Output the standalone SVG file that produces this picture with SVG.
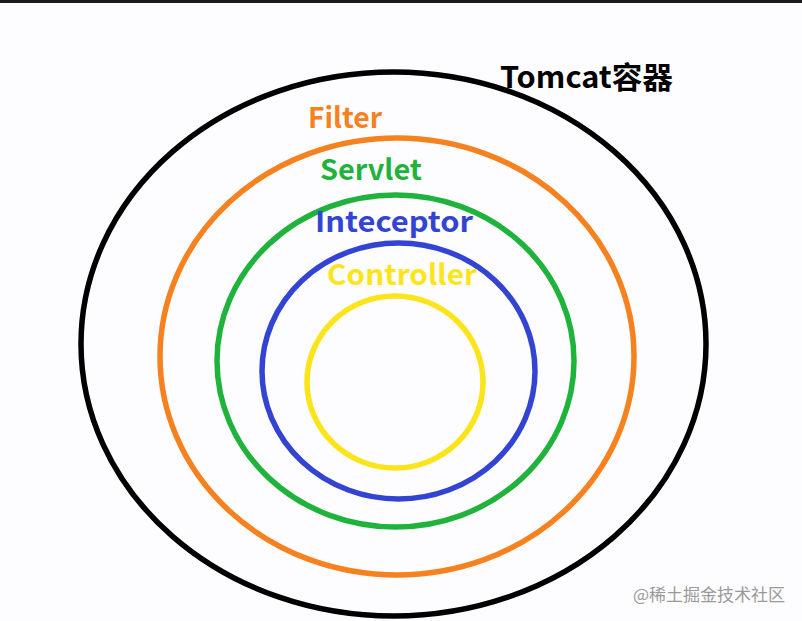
<svg xmlns="http://www.w3.org/2000/svg" width="802" height="621" viewBox="0 0 802 621">
<style>
.ring{fill:none;stroke-width:5.5}
.lbl{font-family:"Noto Sans CJK SC","Microsoft YaHei","Liberation Sans",sans-serif;font-weight:bold}
.wm{font-family:"Noto Sans CJK SC","Liberation Sans",sans-serif}
</style>
<rect x="0" y="0" width="802" height="621" fill="#fdfcfe"/>
<rect x="0" y="0" width="802" height="3" fill="#1c1c1c"/>
<g id="tomcat">
<ellipse class="ring" cx="393.5" cy="344" rx="312.5" ry="272" stroke="#000" stroke-width="6"/>
<text class="lbl" x="500" y="88" font-size="30" fill="#000" textLength="173" lengthAdjust="spacingAndGlyphs">Tomcat容器</text>
</g>
<g id="filter">
<ellipse class="ring" cx="397" cy="356.5" rx="237" ry="218.5" stroke="#f5821f"/>
<text class="lbl" x="308" y="128" font-size="28" fill="#f5821f" textLength="74" lengthAdjust="spacingAndGlyphs">Filter</text>
</g>
<g id="servlet">
<ellipse class="ring" cx="395.5" cy="361" rx="178.5" ry="166" stroke="#1fb33c"/>
<text class="lbl" x="320" y="180" font-size="28" fill="#1fb33c" textLength="102" lengthAdjust="spacingAndGlyphs">Servlet</text>
</g>
<g id="inteceptor">
<ellipse class="ring" cx="398.5" cy="371" rx="136.5" ry="128" stroke="#3444d2"/>
<text class="lbl" x="315" y="232" font-size="28" fill="#3444d2" textLength="158" lengthAdjust="spacingAndGlyphs">Inteceptor</text>
</g>
<g id="controller">
<ellipse class="ring" cx="395" cy="382" rx="88" ry="86" stroke="#fbe51a"/>
<text class="lbl" x="327" y="285" font-size="28" fill="#fbe51a" textLength="150" lengthAdjust="spacingAndGlyphs">Controller</text>
</g>
<text class="wm" x="633" y="601" font-size="17" fill="#9a9a9a">@稀土掘金技术社区</text>
</svg>
